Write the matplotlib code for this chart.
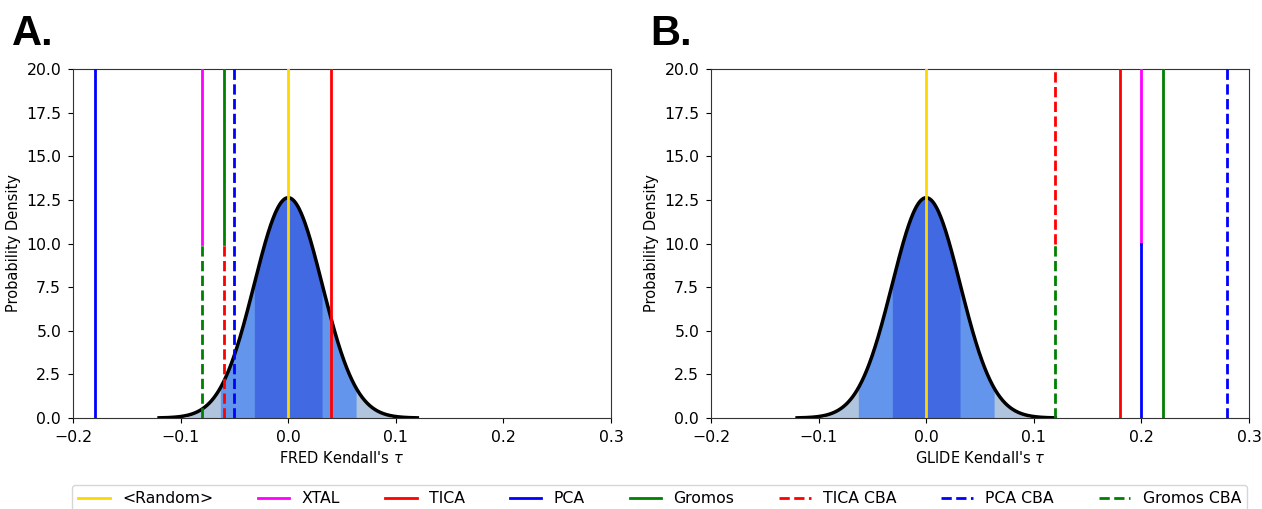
import numpy as np
import matplotlib
matplotlib.use("Agg")
import matplotlib.pyplot as plt
from matplotlib.lines import Line2D

# ---- data ----
methods = ['<Random>', 'XTAL', 'TICA', 'PCA', 'Gromos', 'TICA CBA', 'PCA CBA', 'Gromos CBA']
colors = ['gold', 'magenta', 'red', 'blue', 'green', 'red', 'blue', 'green']
styles = ['-', '-', '-', '-', '-', '--', '--', '--']
fred_tau = [0.0, -0.08, 0.04, -0.18, -0.06, -0.06, -0.05, -0.08]
glide_tau = [0.0, 0.20, 0.18, 0.20, 0.22, 0.12, 0.28, 0.12]

null_mean = 0.0
null_std = 0.0316
curve_range = (-0.12, 0.12)
band_sigmas = [3, 2, 1]
band_colors = ['lightsteelblue', 'cornflowerblue', 'royalblue']

xticks = [-0.2, -0.1, 0.0, 0.1, 0.2, 0.3]
yticks = [0.0, 2.5, 5.0, 7.5, 10.0, 12.5, 15.0, 17.5, 20.0]

plt.rcParams['font.family'] = ['DejaVu Sans']
plt.rcParams['font.size'] = 10.5

fig = plt.figure(figsize=(12.62, 5.09), dpi=100)
W, H = 1262, 509
ax_a = fig.add_axes([73 / W, 1 - 418 / H, (611 - 73) / W, (418 - 69) / H])
ax_b = fig.add_axes([711 / W, 1 - 418 / H, (1249 - 711) / W, (418 - 69) / H])


def draw(ax, taus, xlabel):
    x = np.linspace(curve_range[0], curve_range[1], 600)
    pdf = np.exp(-0.5 * ((x - null_mean) / null_std) ** 2) / (null_std * np.sqrt(2 * np.pi))
    for s, c in zip(band_sigmas, band_colors):
        m = np.abs(x - null_mean) <= s * null_std
        ax.fill_between(x[m], 0, pdf[m], color=c, lw=0, zorder=1)
    ax.plot(x, pdf, color='black', lw=2.5, zorder=2)
    # vertical lines, splitting shared positions
    for i, (t, c, ls) in enumerate(zip(taus, colors, styles)):
        same = [j for j, tt in enumerate(taus) if abs(tt - t) < 1e-9]
        k = same.index(i)
        n = len(same)
        ymax = 1 - k / n
        ymin = 1 - (k + 1) / n
        ax.axvline(t, ymin=ymin, ymax=ymax, color=c, ls=ls, lw=2, zorder=3)
    ax.set_xlim(-0.2, 0.3)
    ax.set_ylim(0, 20)
    ax.set_xticks(xticks)
    ax.set_yticks(yticks)
    ax.tick_params(labelsize=11.3, pad=5)
    ax.set_xlabel(xlabel, fontsize=10.5)
    ax.set_ylabel('Probability Density', fontsize=10.5)
    for sp in ax.spines.values():
        sp.set_color('#333333')


draw(ax_a, fred_tau, "FRED Kendall's $\\tau$")
draw(ax_b, glide_tau, "GLIDE Kendall's $\\tau$")

fig.text(12 / W, 1 - 45 / H, 'A.', fontsize=30, fontweight='bold', va='baseline', ha='left',
         family=['Liberation Sans', 'DejaVu Sans'])
fig.text(650 / W, 1 - 45 / H, 'B.', fontsize=30, fontweight='bold', va='baseline', ha='left',
         family=['Liberation Sans', 'DejaVu Sans'])

handles = [Line2D([0], [0], color=c, ls=ls, lw=2) for c, ls in zip(colors, styles)]
fig.legend(handles, methods, loc='upper left', ncol=8, fontsize=11.3,
           bbox_to_anchor=(72 / W, 1 - 485 / H), columnspacing=2.85,
           frameon=True, fancybox=True, borderaxespad=0)

fig.savefig('out.png', dpi=100)
